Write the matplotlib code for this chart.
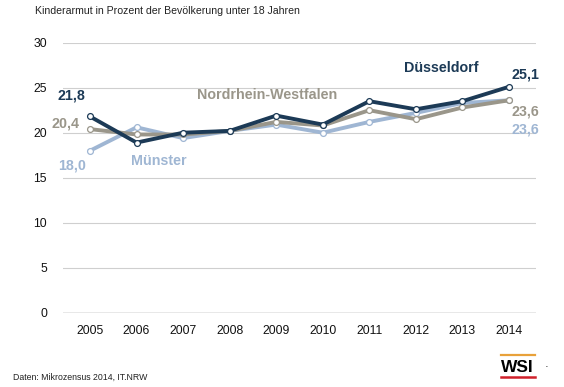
import matplotlib.pyplot as plt

plt.rcParams['font.family'] = ['Liberation Sans', 'DejaVu Sans']

YEARS = [2005, 2006, 2007, 2008, 2009, 2010, 2011, 2012, 2013, 2014]
DUESSELDORF = [21.8, 18.9, 20.0, 20.2, 21.9, 20.9, 23.5, 22.6, 23.5, 25.1]
NRW = [20.4, 19.8, 19.8, 20.2, 21.2, 20.8, 22.5, 21.5, 22.8, 23.6]
MUENSTER = [18.0, 20.6, 19.4, 20.2, 20.9, 20.0, 21.2, 22.2, 23.3, 23.6]
YTICKS = [0, 5, 10, 15, 20, 25, 30]

C_DUS = "#1c3a56"
C_NRW = "#9a968a"
C_MUE = "#9fb6d3"

fig = plt.figure(figsize=(5.64, 3.87), dpi=100)
ax = fig.add_axes([63 / 564, 1 - 312.7 / 387, (536 - 63) / 564, 270 / 387])

for vals, col in [(MUENSTER, C_MUE), (NRW, C_NRW), (DUESSELDORF, C_DUS)]:
    ax.plot(YEARS, vals, color=col, lw=2.8, solid_joinstyle="miter",
            marker="o", ms=4.2, mfc="white", mec=col, mew=0.9, zorder=3)

ax.set_xlim(2004.42, 2014.58)
ax.set_ylim(0, 30)
ax.set_yticks(YTICKS)
ax.set_xticks(YEARS)
ax.set_xticklabels([str(y) for y in YEARS])
ax.tick_params(axis="y", length=0, pad=11.5, labelsize=8.8, labelcolor="#111111")
ax.tick_params(axis="x", length=0, pad=8.5, labelsize=8.8, labelcolor="#111111")
for t in YTICKS[1:]:
    ax.axhline(t, color="#cfcfcf", lw=0.8, zorder=1)
ax.axhline(0, color="#8a8a8a", lw=1.0, zorder=1)
for s in ax.spines.values():
    s.set_visible(False)

# series labels
lab = dict(fontsize=10.3, fontweight="bold", va="center")
ax.text(2004.61, 24.1, "21,8", color=C_DUS, ha="center", **lab)
ax.text(2004.77, 21.0, "20,4", color=C_NRW, ha="right", **lab)
ax.text(2004.61, 16.4, "18,0", color=C_MUE, ha="center", **lab)
ax.text(2006.48, 16.9, "Münster", color=C_MUE, ha="center", **lab)
ax.text(2008.80, 24.2, "Nordrhein-Westfalen", color=C_NRW, ha="center", **lab)
ax.text(2012.54, 27.2, "Düsseldorf", color=C_DUS, ha="center", **lab)
ax.text(2014.06, 26.5, "25,1", color=C_DUS, ha="left", **lab)
ax.text(2014.06, 22.3, "23,6", color=C_NRW, ha="left", **lab)
ax.text(2014.06, 20.4, "23,6", color=C_MUE, ha="left", **lab)

fig.text(35 / 564, 1 - 11 / 387, "Kinderarmut in Prozent der Bevölkerung unter 18 Jahren",
         fontsize=7.6, ha="left", va="center", color="#222222")
fig.text(13 / 564, 1 - 377 / 387, "Daten: Mikrozensus 2014, IT.NRW",
         fontsize=6.3, ha="left", va="center", color="#222222")

# WSI logo
fig.text(517.5 / 564, 1 - 367.5 / 387, "WSI", fontsize=12.5, fontweight="bold",
         ha="center", va="center", color="black")
fig.add_artist(plt.Line2D([500.5 / 564, 535 / 564], [1 - 355 / 387, 1 - 355 / 387],
                          color="#e8a13a", lw=1.6))
fig.add_artist(plt.Line2D([500.5 / 564, 535 / 564], [1 - 376.5 / 387, 1 - 376.5 / 387],
                          color="#d0202a", lw=1.8))
fig.text(546 / 564, 1 - 366.7 / 387, "·", fontsize=8, ha="center", va="center")

fig.savefig("out.png", dpi=100)
